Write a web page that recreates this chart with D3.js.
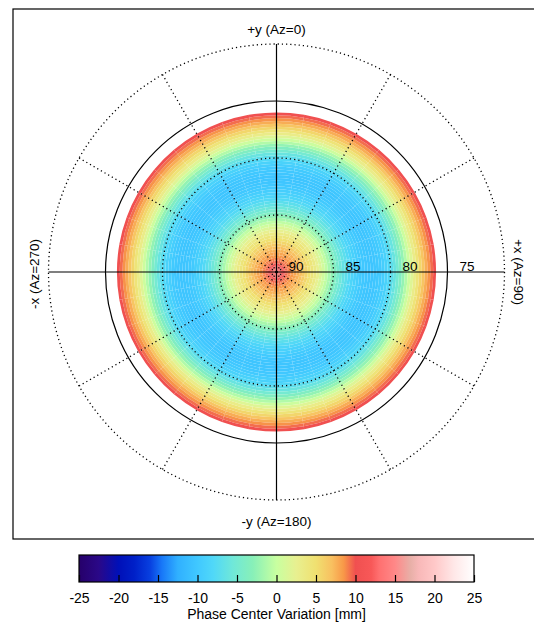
<!DOCTYPE html>
<html>
<head>
<meta charset="utf-8">
<script src="https://cdn.jsdelivr.net/npm/d3@7/dist/d3.min.js"></script>
<style>
  body { margin: 0; background: #fff; }
  svg { display: block; font-family: "Liberation Sans", Arial, sans-serif; }
</style>
</head>
<body>
<div id="chart"></div>
<script>
// Phase centre variation vs. zenith angle, polar view (skyplot)

// zenith angle step (deg) of the data bands, starting at zenith 0
const zenithStep = 0.25;
// PCV [mm] per band, from zenith 0 outwards to 14 deg (elevation 76)
const pcvByZenith = [
    10.5, 10.4, 10.0, 9.5, 9.0, 8.5, 8.0, 7.5,
    7.0, 6.3, 5.6, 4.9, 4.2, 3.4, 2.5, 1.6,
    0.6, -0.4, -1.5, -2.6, -3.7, -4.7, -5.6, -6.4,
    -7.1, -7.8, -8.4, -8.9, -9.3, -9.7, -10.0, -10.2,
    -10.3, -10.3, -10.2, -10.0, -9.7, -9.3, -8.7, -8.0,
    -7.1, -6.1, -5.0, -3.8, -2.5, -1.1, 0.3, 1.7,
    3.1, 4.4, 5.6, 6.7, 7.7, 8.6, 9.4, 10.1
];
const azimuthCells = d3.range(0, 360, 10);

// grid
const dottedRings = [5, 10, 20];
const solidRings = [15];
const spokeAzimuths = [30, 60, 120, 150, 210, 240, 300, 330];
const ringLabelZenith = [0, 5, 10, 15];
const ringLabels = ['90', '85', '80', '75'];

// colour table
const cptValues = [-25, -22.5, -20, -18, -16, -14.5, -12.5, -10, -8, -5.5, -3, 0,
    2.5, 5, 7, 8.5, 10, 12, 13, 15, 17, 18, 20, 22.5, 25];
const cptColors = ['#26006a', '#2a0888', '#0010b8', '#0020c8', '#0840e0', '#1878f8', '#30b0ff', '#40c8ff', '#50d8f8', '#70e8d8', '#88f0b8', '#c8ffa0',
    '#e8f090', '#f0e070', '#f8c060', '#f89848', '#f05050', '#f85858', '#ff7070', '#ff8888', '#e8b0a8', '#f8b8b8', '#ffc8c8', '#ffe8e8', '#ffffff'];
const colorbarTicks = [-25, -20, -15, -10, -5, 0, 5, 10, 15, 20, 25];

const W = 534, H = 624;
const cx = 276.5, cy = 272;

const svg = d3.select('#chart').append('svg')
    .attr('width', W)
    .attr('height', H);

const color = d3.scaleLinear()
    .domain(cptValues)
    .range(cptColors)
    .clamp(true);

const r = d3.scaleLinear().domain([0, 20]).range([0, 228]);

// frame
svg.append('rect')
    .attr('x', 13).attr('y', 9)
    .attr('width', 540).attr('height', 530)
    .attr('fill', 'none')
    .attr('stroke', '#000')
    .attr('stroke-width', 1.2);

const plot = svg.append('g').attr('transform', `translate(${cx},${cy})`);

// coloured bands
const arc = d3.arc();
const cells = [];
pcvByZenith.forEach((v, i) => {
    azimuthCells.forEach(az => {
        cells.push({ z0: i * zenithStep, z1: (i + 1) * zenithStep, az0: az, az1: az + 10, v: v });
    });
});

plot.append('g').selectAll('path')
    .data(cells)
    .enter()
    .append('path')
    .attr('d', d => arc({
        innerRadius: r(d.z0),
        outerRadius: r(d.z1),
        startAngle: d.az0 * Math.PI / 180,
        endAngle: d.az1 * Math.PI / 180
    }))
    .attr('fill', d => color(d.v));

// dotted rings and spokes
const rad = a => a * Math.PI / 180;
plot.append('g').selectAll('circle')
    .data(dottedRings)
    .enter()
    .append('circle')
    .attr('r', d => r(d))
    .attr('fill', 'none')
    .attr('stroke', '#000')
    .attr('stroke-width', 1.3)
    .attr('stroke-dasharray', '1.2,3');

plot.append('g').selectAll('line')
    .data(spokeAzimuths)
    .enter()
    .append('line')
    .attr('x1', 0).attr('y1', 0)
    .attr('x2', d => r(20) * Math.sin(rad(d)))
    .attr('y2', d => -r(20) * Math.cos(rad(d)))
    .attr('stroke', '#000')
    .attr('stroke-width', 1.3)
    .attr('stroke-dasharray', '1.2,3');

// solid ring and axes
plot.append('g').selectAll('circle')
    .data(solidRings)
    .enter()
    .append('circle')
    .attr('r', d => r(d))
    .attr('fill', 'none')
    .attr('stroke', '#000')
    .attr('stroke-width', 1.2);

plot.append('line')
    .attr('x1', -r(20)).attr('x2', r(20))
    .attr('y1', 0).attr('y2', 0)
    .attr('stroke', '#000').attr('stroke-width', 1.2);
plot.append('line')
    .attr('x1', 0).attr('x2', 0)
    .attr('y1', -r(20)).attr('y2', r(20))
    .attr('stroke', '#000').attr('stroke-width', 1.2);

// elevation labels
plot.append('g').selectAll('text')
    .data(ringLabelZenith)
    .enter()
    .append('text')
    .attr('x', d => r(d) + 19.5)
    .attr('y', -1.5)
    .attr('text-anchor', 'middle')
    .style('font-size', '13.5px')
    .text((d, i) => ringLabels[i]);

// direction labels
const labelStyle = sel => sel.attr('text-anchor', 'middle').style('font-size', '13.5px').attr('fill', '#000');
svg.append('text').attr('x', cx).attr('y', 34).call(labelStyle).text('+y (Az=0)');
svg.append('text').attr('x', cx).attr('y', 525.5).call(labelStyle).text('-y (Az=180)');
svg.append('text').attr('transform', 'translate(39,274) rotate(-90)').call(labelStyle).text('-x (Az=270)');
svg.append('text').attr('transform', 'translate(514,272) rotate(90)').call(labelStyle).text('+x (Az=90)');

// colour bar
const cbX = d3.scaleLinear().domain([-25, 25]).range([79, 474]);
const cbTop = 555, cbBottom = 582;

const grad = svg.append('defs').append('linearGradient')
    .attr('id', 'cb-grad')
    .attr('x1', '0%').attr('x2', '100%')
    .attr('y1', '0%').attr('y2', '0%');
grad.selectAll('stop')
    .data(cptValues)
    .enter()
    .append('stop')
    .attr('offset', d => ((d + 25) / 50 * 100) + '%')
    .attr('stop-color', d => color(d));

svg.append('rect')
    .attr('x', cbX(-25)).attr('y', cbTop)
    .attr('width', cbX(25) - cbX(-25)).attr('height', cbBottom - cbTop)
    .attr('fill', 'url(#cb-grad)')
    .attr('stroke', '#000')
    .attr('stroke-width', 1.2);

const cbAxis = svg.append('g')
    .attr('transform', `translate(0,${cbBottom})`)
    .call(d3.axisBottom(cbX)
        .tickValues(colorbarTicks)
        .tickSizeInner(-7)
        .tickSizeOuter(0)
        .tickPadding(11)
        .tickFormat(d => String(d)));
cbAxis.select('.domain').remove();
cbAxis.selectAll('line').attr('stroke', '#000').attr('stroke-width', 1.2);
cbAxis.selectAll('text')
    .style('font-size', '14px')
    .style('font-family', '"Liberation Sans", Arial, sans-serif')
    .attr('fill', '#000');

svg.append('text')
    .attr('x', cbX(0))
    .attr('y', 619)
    .attr('text-anchor', 'middle')
    .style('font-size', '14px')
    .text('Phase Center Variation [mm]');
</script>
</body>
</html>
